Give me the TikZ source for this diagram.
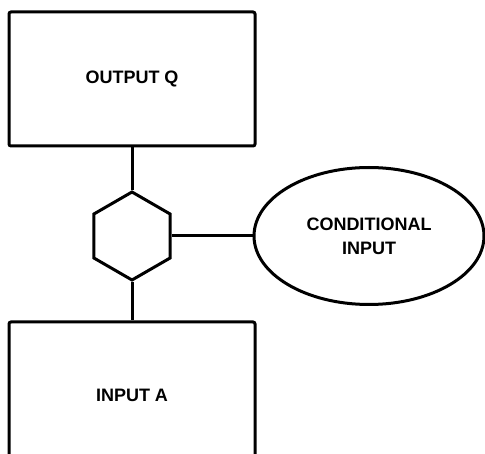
\documentclass[tikz,border=0pt]{standalone}
\usepackage{fontspec}
\setmainfont{Liberation Sans}
\usetikzlibrary{shapes.geometric}

\begin{document}
\begin{tikzpicture}[x=1pt,y=-1pt,line width=3pt,
  every node/.style={font=\bfseries\fontsize{18}{24}\selectfont},
  box/.style={draw,rectangle,rounded corners=2pt,minimum width=246pt,inner sep=0pt},
  gate/.style={draw,regular polygon,regular polygon sides=6,shape border rotate=30,minimum size=88pt,inner sep=0pt},
  blob/.style={draw,ellipse,minimum width=230pt,minimum height=137pt,inner sep=0pt,align=center}]
\clip (0,0) rectangle (485,454);
\node[box,minimum height=134pt] (outq) at (132,79) {OUTPUT Q};
\node[gate] (hex) at (132,236) {};
\node[blob] (cin) at (369,236) {CONDITIONAL\\INPUT};
\node[box,minimum height=146pt] (ina) at (132,395) {INPUT A};
\draw (outq) -- (hex);
\draw (hex) -- (ina);
\draw (hex) -- (cin);
\end{tikzpicture}
\end{document}
